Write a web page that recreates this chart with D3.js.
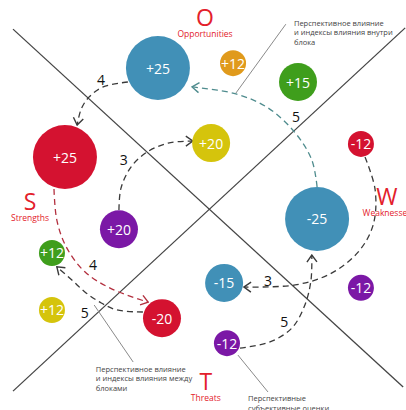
<!DOCTYPE html>
<html><head><meta charset="utf-8">
<script src="https://cdn.jsdelivr.net/npm/d3@7"></script>
<style>html,body{margin:0;padding:0;background:#fff;}svg{display:block;}</style>
</head><body>
<svg id="chart" width="406" height="410"></svg>
<script>
// ---- data (positions in percent of the canvas) ----
const bubbleLabels = ["+25","+12","+15","+20","+25","+20","+12","+12","-20","-25","-12","-12","-15","-12"];
const bubbleValues = [25,12,15,20,25,20,12,12,-20,-25,-12,-12,-15,-12];
const bubbleColors = ["blue","orange","green","yellow","red","purple","green","yellow","red","blue","red","purple","blue","purple"];
const bubbleX = [38.9,57.4,73.4,52.0,16.0,29.3,12.8,12.8,39.9,78.1,88.9,88.9,55.2,55.9];
const bubbleY = [16.6,15.4,20.0,34.9,38.3,55.9,61.7,75.6,77.6,53.4,35.1,70.2,69.0,83.7];

const quadLetters = ["O","S","W","T"];
const quadNames = ["Opportunities","Strengths","Weaknesses","Threats"];
const quadX = [50.5,7.4,95.3,50.7];
const quadY = [6.4,51.2,50.0,95.1];

const linkLabels = ["4","5","3","4","5","3","5"];
const linkColors = ["dark","teal","dark","wine","dark","dark","dark"];
const linkArrow = ["end","start","end","end","end","end","end"];
const linkPoints = [
  [[31.5,20.0],[25.4,21.2],[21.9,23.7],[20.0,26.6],[19.0,30.5]],
  [[47.3,21.2],[58.1,22.9],[66.0,26.3],[72.7,32.4],[76.8,39.0],[78.1,45.6]],
  [[29.3,51.2],[29.8,45.9],[32.3,40.7],[36.2,37.1],[41.4,34.9],[47.5,34.4]],
  [[13.3,46.1],[14.0,53.7],[16.3,60.2],[20.9,66.3],[27.6,70.5],[36.5,73.7]],
  [[35.2,76.1],[28.8,75.6],[24.6,73.7],[20.9,71.2],[17.7,68.3],[14.0,65.1]],
  [[89.9,38.3],[92.4,46.3],[91.9,54.9],[88.2,61.5],[81.3,66.8],[72.7,69.5],[60.1,70.0]],
  [[59.1,84.9],[66.5,83.4],[71.9,80.0],[75.1,74.4],[76.6,68.3],[76.8,62.2]]
];
const linkLabelX = [24.9,72.9,30.5,22.9,20.9,66.0,70.0];
const linkLabelY = [19.3,28.3,39.0,64.4,76.1,68.5,78.5];

const axisLines = [[[3.2,7.1],[99.3,94.4]],[[3.2,95.4],[99.8,6.8]]];

const noteLines = [
  ["Перспективное влияние","и индексы влияния внутри","блока"],
  ["Перспективное влияние","и индексы влияния между","блоками"],
  ["Перспективные","субъективные оценки"]
];
const noteX = [72.4,23.6,61.1];
const noteY = [6.3,90.7,97.8];
const leaderLines = [[[58.1,22.7],[70.4,5.9]],[[23.2,74.4],[32.8,88.3]],[[58.6,86.6],[66.0,95.6]]];

// ---- styles ----
const palette = {blue:"#4190b7",orange:"#e09a1c",green:"#3f9e1c",yellow:"#d5c40c",red:"#d41230",purple:"#7b18a6"};
const dashColors = {dark:"#3a3a3a",teal:"#4f8c8e",wine:"#b3303f"};
const quadRed = "#e3202b";

const W = 406, H = 410;
const svg = d3.select("#chart");
const x = d3.scaleLinear().domain([0,100]).range([0,W]);
const y = d3.scaleLinear().domain([0,100]).range([0,H]);
const r = d3.scaleThreshold().domain([13,21]).range([13,19,32]);
const font = "'Open Sans', 'DejaVu Sans', sans-serif";

// markers
const defs = svg.append("defs");
Object.entries(dashColors).forEach(([k,c]) => {
  defs.append("marker").attr("id","arr-"+k)
    .attr("viewBox","-1 -6 9 12").attr("refX",7).attr("refY",0)
    .attr("markerWidth",9).attr("markerHeight",12).attr("markerUnits","userSpaceOnUse")
    .attr("orient","auto-start-reverse")
    .append("path").attr("d","M0,-5 L7,0 L0,5").attr("fill","none")
    .attr("stroke",c).attr("stroke-width",1.4);
});

// X lines
svg.append("g").selectAll("line").data(axisLines).join("line")
  .attr("x1",d=>x(d[0][0])).attr("y1",d=>y(d[0][1]))
  .attr("x2",d=>x(d[1][0])).attr("y2",d=>y(d[1][1]))
  .attr("stroke","#444").attr("stroke-width",1.3);

// leader lines
svg.append("g").selectAll("line").data(leaderLines).join("line")
  .attr("x1",d=>x(d[0][0])).attr("y1",d=>y(d[0][1]))
  .attr("x2",d=>x(d[1][0])).attr("y2",d=>y(d[1][1]))
  .attr("stroke","#8a8a8a").attr("stroke-width",1);

// links
const lineGen = d3.line().x(d=>x(d[0])).y(d=>y(d[1])).curve(d3.curveCatmullRom.alpha(0.5));
svg.append("g").selectAll("path").data(linkPoints).join("path")
  .attr("d",d=>lineGen(d)).attr("fill","none")
  .attr("stroke",(d,i)=>dashColors[linkColors[i]]).attr("stroke-width",1.3)
  .attr("stroke-dasharray","6 4")
  .attr("marker-end",(d,i)=>linkArrow[i]==="end"?`url(#arr-${linkColors[i]})`:null)
  .attr("marker-start",(d,i)=>linkArrow[i]==="start"?`url(#arr-${linkColors[i]})`:null);

svg.append("g").selectAll("text").data(linkLabels).join("text")
  .attr("x",(d,i)=>x(linkLabelX[i])).attr("y",(d,i)=>y(linkLabelY[i]))
  .attr("text-anchor","middle").attr("dominant-baseline","central")
  .attr("font-family",font).attr("font-size",14).attr("fill","#111").text(d=>d);

// bubbles
const bg = svg.append("g").selectAll("g").data(bubbleValues).join("g")
  .attr("transform",(d,i)=>`translate(${x(bubbleX[i])},${y(bubbleY[i])})`);
bg.append("circle").attr("r",d=>r(Math.abs(d))).attr("fill",(d,i)=>palette[bubbleColors[i]]);
bg.append("text").attr("text-anchor","middle").attr("dominant-baseline","central")
  .attr("font-family",font).attr("font-size",14).attr("fill","#fff")
  .text((d,i)=>bubbleLabels[i]);

// quadrant labels (letter baseline at the anchor, name below)
const qg = svg.append("g").selectAll("g").data(quadLetters).join("g")
  .attr("transform",(d,i)=>`translate(${x(quadX[i])},${y(quadY[i])})`);
qg.append("text").attr("text-anchor","middle").attr("y",0)
  .attr("font-family",font).attr("font-size",23).attr("fill",quadRed).text(d=>d);
qg.append("text").attr("text-anchor","middle").attr("y",11)
  .attr("font-family",font).attr("font-size",8.5).attr("fill",quadRed).text((d,i)=>quadNames[i]);

// notes
const ng = svg.append("g").selectAll("text").data(noteLines).join("text")
  .attr("x",(d,i)=>x(noteX[i])).attr("y",(d,i)=>y(noteY[i]))
  .attr("font-family",font).attr("font-size",7.5).attr("fill","#444");
ng.selectAll("tspan").data(d=>d).join("tspan")
  .attr("x",function(){return this.parentNode.getAttribute("x");})
  .attr("dy",(d,j)=>j===0?0:9.6).text(d=>d);
</script>
</body></html>
